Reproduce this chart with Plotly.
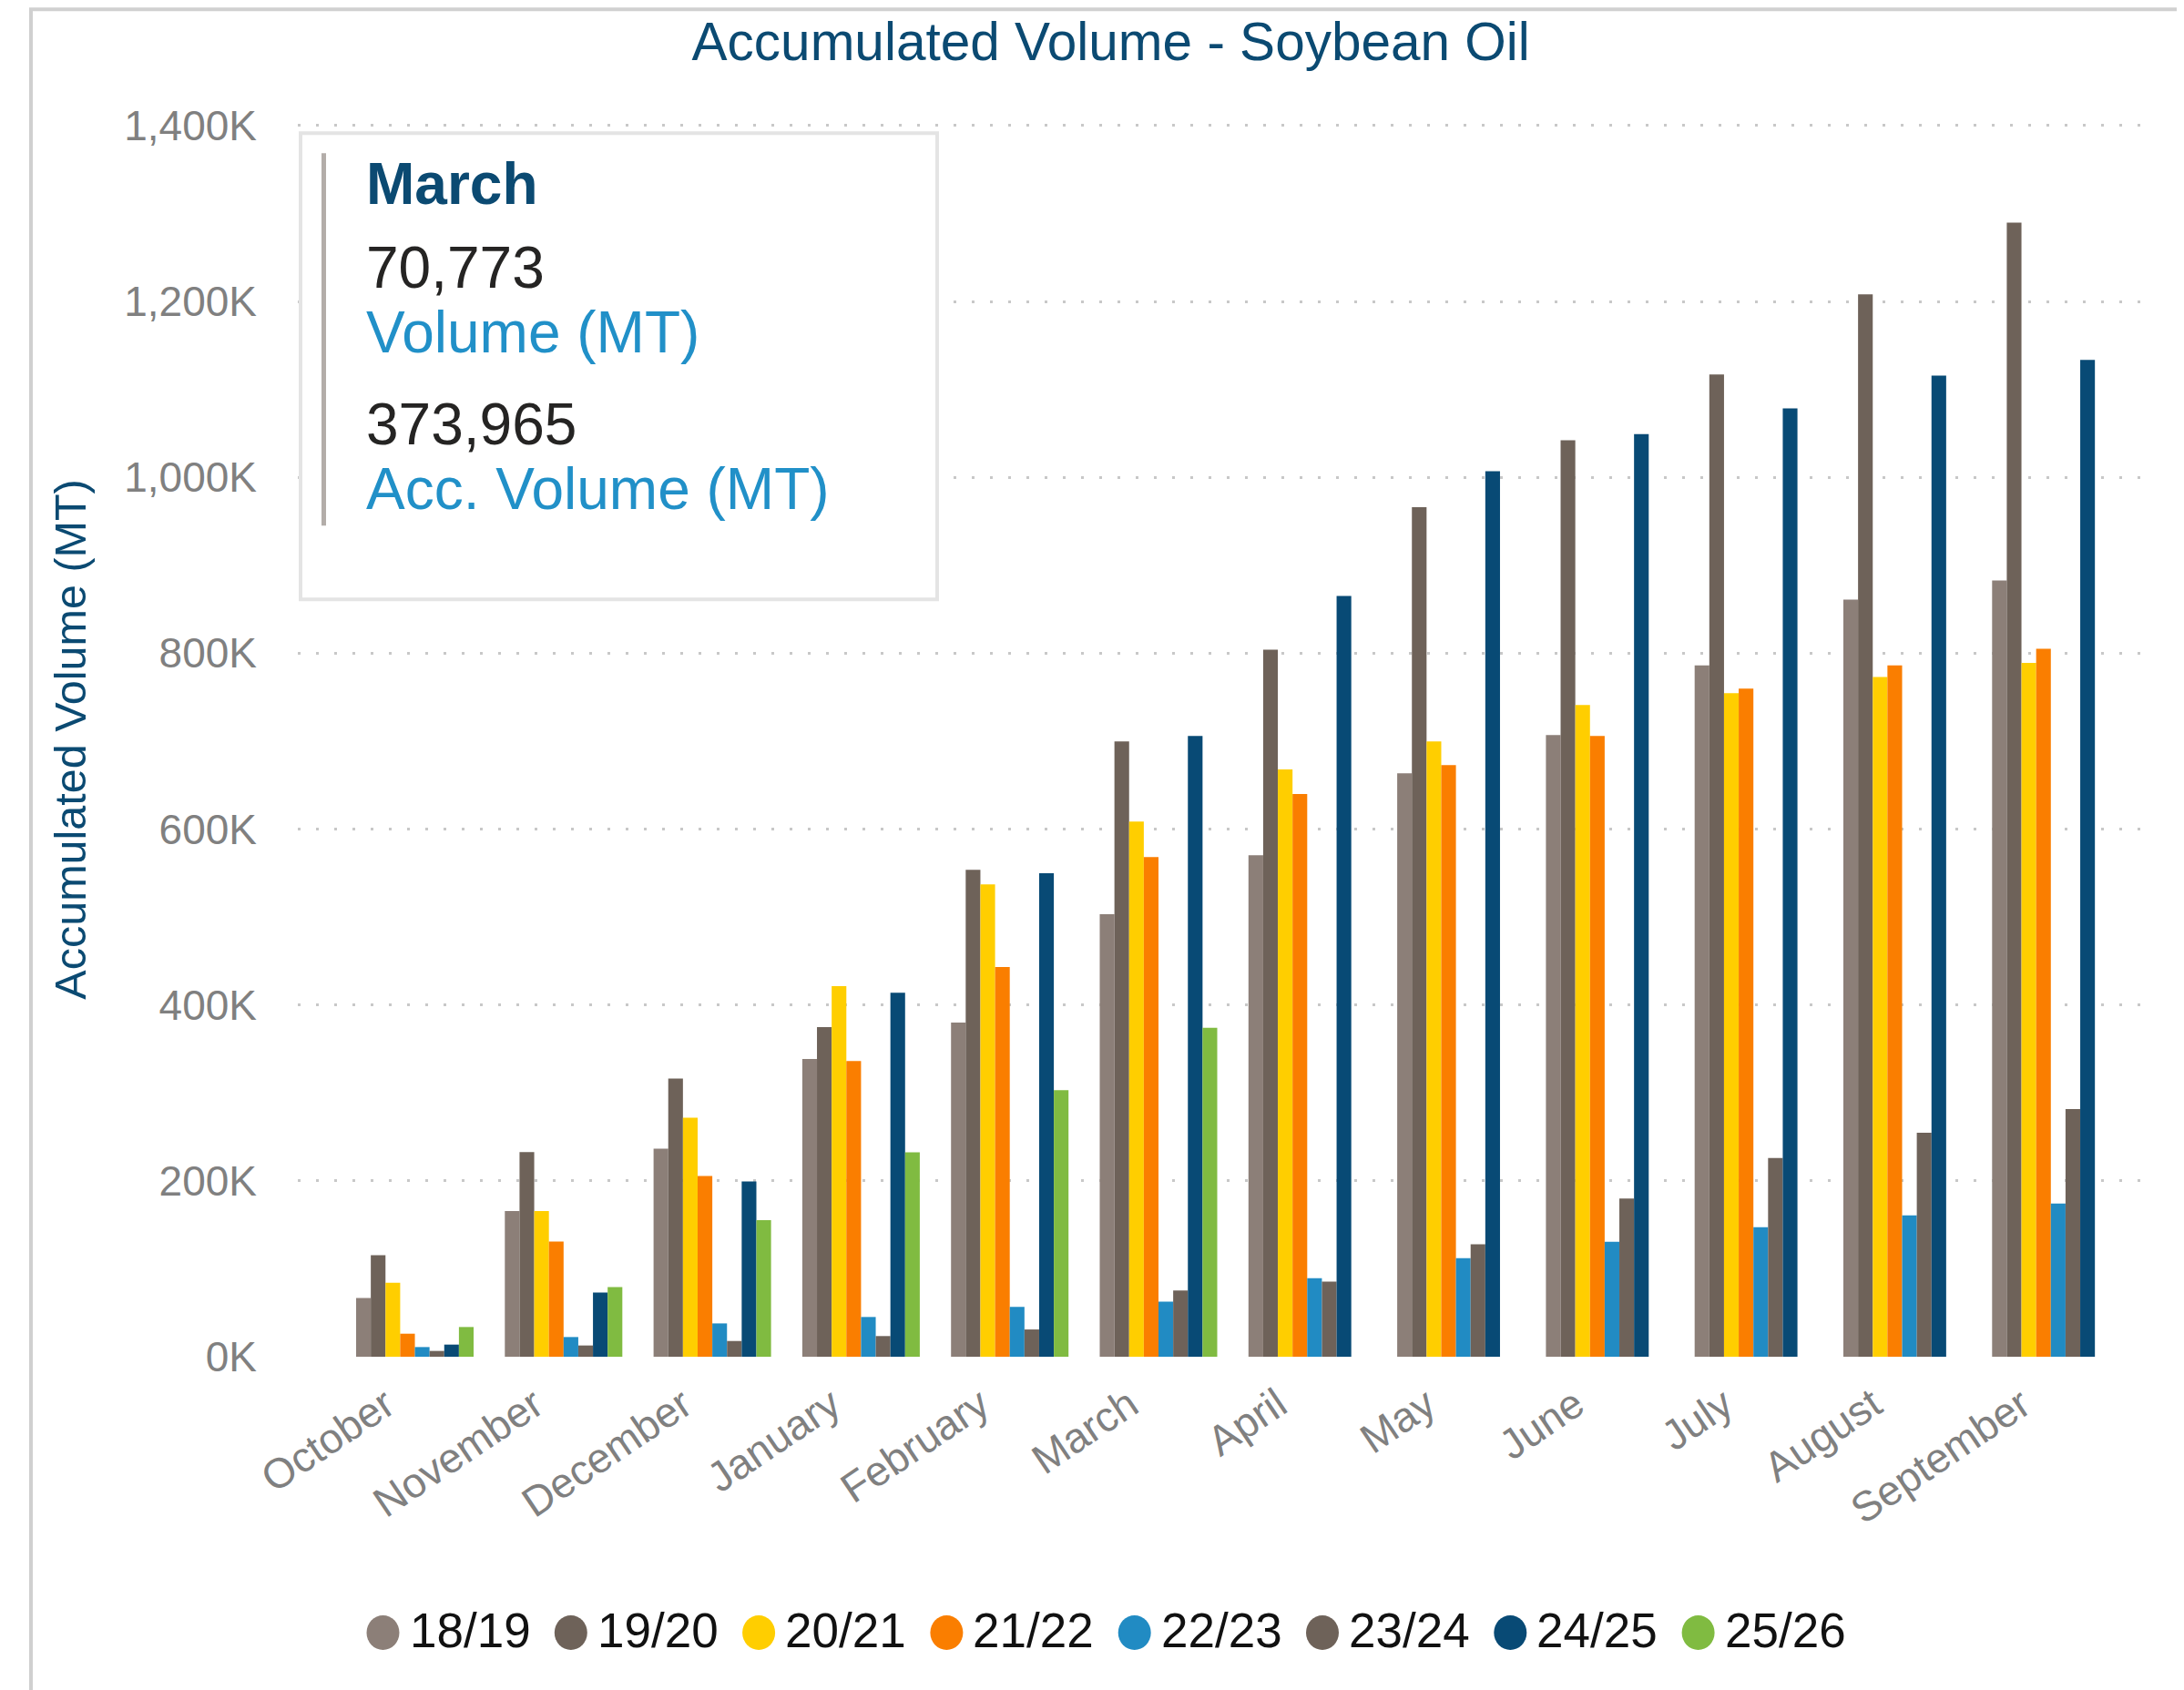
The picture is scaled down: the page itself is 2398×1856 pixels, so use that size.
import plotly.graph_objects as go

# ---------------- data ----------------
months = ["October", "November", "December", "January", "February", "March",
          "April", "May", "June", "July", "August", "September"]
seasons = ["18/19", "19/20", "20/21", "21/22", "22/23", "23/24", "24/25", "25/26"]

s1819 = [66900, 165600, 236600, 338600, 380000, 503100, 570300, 663400, 706900, 786000, 861000, 882800]
s1920 = [115500, 232800, 316300, 374800, 553800, 699700, 804100, 966000, 1042000, 1117000, 1208000, 1289500]
s2021 = [84200, 165600, 271800, 421400, 537200, 608600, 667900, 699700, 741000, 754500, 773000, 789000]
s2122 = [26200, 131000, 205600, 336200, 443100, 568300, 640000, 672800, 705900, 759600, 786000, 805000]
s2223 = [11000, 22400, 37900, 45200, 56600, 62600, 89300, 112100, 130700, 147300, 160700, 174100]
s2324 = [6600, 12800, 17900, 23500, 31000, 75200, 85500, 128000, 180000, 225900, 254800, 281700]
s2425 = [13800, 73100, 199400, 413800, 549700, 705900, 865000, 1007000, 1049000, 1078400, 1115600, 1133500]
s2526 = [33800, 79300, 155200, 232500, 303192, 373965]

series_values = [s1819, s1920, s2021, s2122, s2223, s2324, s2425, s2526]
colors = ["#8C7F78", "#6E6259", "#FFCE00", "#FA7E00", "#218BC3", "#6E6259", "#084A75", "#80BB41"]

ytick_vals = [0, 200000, 400000, 600000, 800000, 1000000, 1200000, 1400000]
ytick_text = ["0K", "200K", "400K", "600K", "800K", "1,000K", "1,200K", "1,400K"]

title_text = "Accumulated Volume - Soybean Oil"
ytitle_text = "Accumulated Volume (MT)"

tip_month = "March"
tip_volume = "70,773"
tip_volume_label = "Volume (MT)"
tip_acc = "373,965"
tip_acc_label = "Acc. Volume (MT)"

# ---------------- layout geometry (page pixels, compensating body margin) ----------------
OFF = 8
W, H = 2398 - OFF, 1856 - OFF
L, R = 327 - OFF, 2355 - OFF
B = 1490 - OFF
T1400 = 137.6 - OFF
YMAX = 1404000
T = B - (B - T1400) * YMAX / 1400000


def px(x):
    """reference page x -> paper coordinate"""
    return (x - OFF - L) / (R - L)


def py(y):
    """reference page y -> paper coordinate"""
    return (B - (y - OFF)) / (B - T)


FONT = "Liberation Sans, Arial, sans-serif"

fig = go.Figure()
for name, vals, col in zip(seasons, series_values, colors):
    fig.add_trace(go.Bar(
        name=name, x=months[:len(vals)], y=vals,
        marker=dict(color=col, line=dict(width=0)),
        showlegend=False,
    ))

shapes = []
annotations = []

# outer frame
shapes.append(dict(type="rect", xref="paper", yref="paper",
                   x0=px(34), x1=px(2395), y0=py(1950), y1=py(10),
                   line=dict(color="#D0D0D0", width=4), layer="below"))

# tooltip box
shapes.append(dict(type="rect", xref="paper", yref="paper",
                   x0=px(330), x1=px(1029), y0=py(658), y1=py(146),
                   line=dict(color="#E4E4E4", width=4), fillcolor="white", layer="above"))
shapes.append(dict(type="rect", xref="paper", yref="paper",
                   x0=px(353), x1=px(358), y0=py(577), y1=py(168),
                   line=dict(width=0), fillcolor="#B3ADA9", layer="above"))

tip_lines = [
    (tip_month, 201.6, "#0B4A72", True),
    (tip_volume, 293.5, "#252423", False),
    (tip_volume_label, 365, "#2190C8", False),
    (tip_acc, 465.7, "#252423", False),
    (tip_acc_label, 537, "#2190C8", False),
]
for txt, yy, col, bold in tip_lines:
    annotations.append(dict(
        xref="paper", yref="paper", x=px(400), y=py(yy),
        xanchor="left", yanchor="middle", showarrow=False,
        text=f"<b>{txt}</b>" if bold else txt,
        font=dict(family=FONT, size=64, color=col),
    ))

# custom legend with circle markers
for i, (name, col) in enumerate(zip(seasons, colors)):
    cx = 420.5 + 206.3 * i
    cy = 1793
    shapes.append(dict(type="circle", xref="paper", yref="paper",
                       xsizemode="pixel", ysizemode="pixel",
                       xanchor=px(cx), yanchor=py(cy),
                       x0=-18, x1=18, y0=-19, y1=19,
                       fillcolor=col, line=dict(width=0)))
    annotations.append(dict(
        xref="paper", yref="paper", x=px(cx + 27), y=py(1791),
        xanchor="left", yanchor="middle", showarrow=False, text=name,
        font=dict(family=FONT, size=53, color="#111111"),
    ))

fig.update_layout(
    width=W, height=H,
    margin=dict(l=L, r=W - R, t=T, b=H - B, autoexpand=False),
    paper_bgcolor="white", plot_bgcolor="white",
    barmode="group", bargap=0.21, bargroupgap=0,
    title=dict(text=title_text, xref="container", yref="container",
               x=(1219.7 - OFF) / W, y=1 - (46 - OFF) / H,
               xanchor="center", yanchor="middle",
               font=dict(family=FONT, size=58.5, color="#0B4A72")),
    shapes=shapes,
    annotations=annotations,
    showlegend=False,
)

fig.update_xaxes(
    type="category", categoryorder="array", categoryarray=months,
    range=[-0.787, 11.632],
    showgrid=False, showline=False, zeroline=False, ticks="",
    tickangle=-34,
    tickfont=dict(family=FONT, size=46, color="#808080"),
    ticklabelstandoff=16,
    ticklabelshift=-32,
)
fig.update_yaxes(
    range=[0, YMAX],
    tickvals=ytick_vals, ticktext=ytick_text,
    showgrid=True, gridcolor="#C8C8C8", gridwidth=3, griddash="3px,17px",
    zeroline=False, showline=False, ticks="",
    tickfont=dict(family=FONT, size=46, color="#808080"),
    ticklabelstandoff=44,
    title=dict(text=ytitle_text, standoff=26,
               font=dict(family=FONT, size=48.5, color="#0B4A72")),
)

fig.write_html("out.html")
